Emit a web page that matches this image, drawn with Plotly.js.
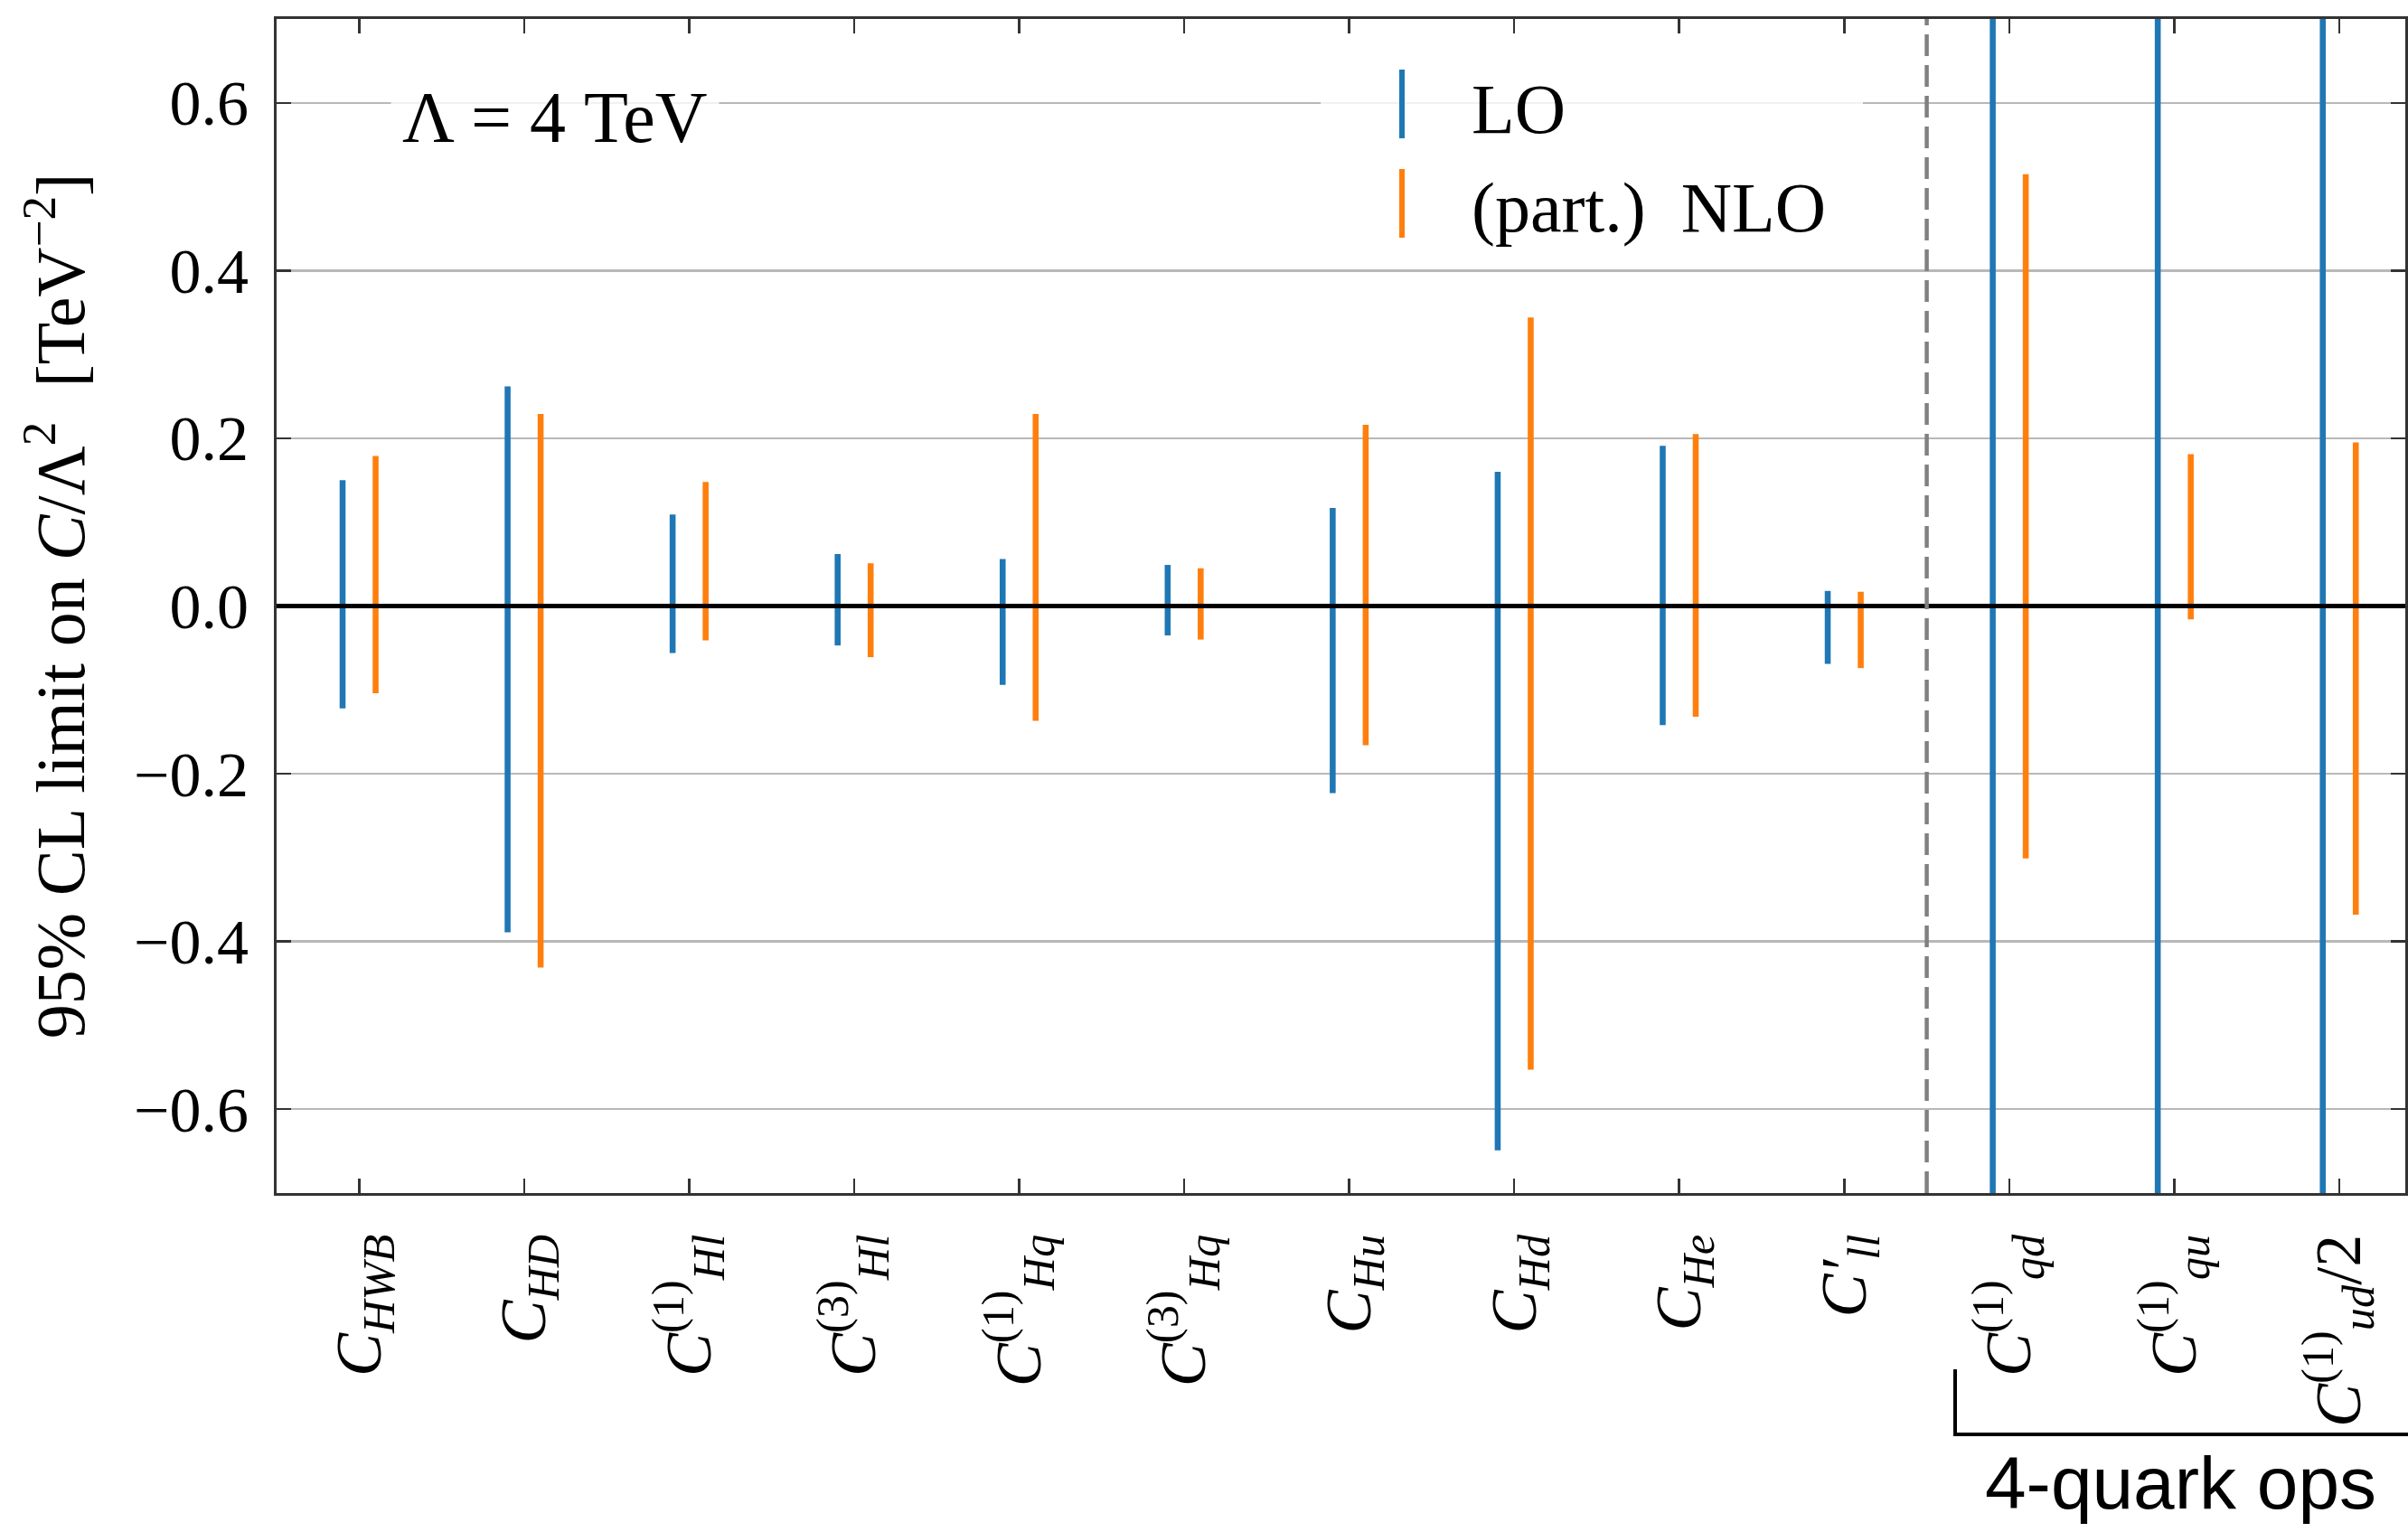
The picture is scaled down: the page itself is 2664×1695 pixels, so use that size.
<!DOCTYPE html>
<html>
<head>
<meta charset="utf-8">
<script src="https://cdn.plot.ly/plotly-3.0.1.min.js"></script>
<style>html,body{margin:0;padding:0;background:#fff;}</style>
</head>
<body>
<div id="chart" style="width:2664px;height:1695px;"></div>
<script>
// ---- data ----
const categories = [
  "<i>C</i><sub><i>HWB</i></sub>",
  "<i>C</i><sub><i>HD</i></sub>",
  "<i>C</i><sup>(1)</sup><sub><i>Hl</i></sub>",
  "<i>C</i><sup>(3)</sup><sub><i>Hl</i></sub>",
  "<i>C</i><sup>(1)</sup><sub><i>Hq</i></sub>",
  "<i>C</i><sup>(3)</sup><sub><i>Hq</i></sub>",
  "<i>C</i><sub><i>Hu</i></sub>",
  "<i>C</i><sub><i>Hd</i></sub>",
  "<i>C</i><sub><i>He</i></sub>",
  "<i>C′</i><sub><i>ll</i></sub>",
  "<i>C</i><sup>(1)</sup><sub><i>qd</i></sub>",
  "<i>C</i><sup>(1)</sup><sub><i>qu</i></sub>",
  "<i>C</i><sup>(1)</sup><sub><i>ud</i></sub>/2"
];
// LO 95% CL interval (4-quark LO intervals run off the plotted range)
const loLower = [-0.122, -0.389, -0.056, -0.047, -0.094, -0.035, -0.223, -0.649, -0.142, -0.069, -1.0, -1.0, -1.0];
const loUpper = [ 0.150,  0.262,  0.109,  0.062,  0.056,  0.049,  0.117,  0.160,  0.191,  0.018,  1.0,  1.0,  1.0];
// (part.) NLO 95% CL interval
const nloLower = [-0.104, -0.431, -0.041, -0.061, -0.137, -0.040, -0.166, -0.553, -0.132, -0.074, -0.301, -0.016, -0.368];
const nloUpper = [ 0.179,  0.229,  0.148,  0.051,  0.229,  0.045,  0.216,  0.344,  0.205,  0.017,  0.515,  0.181,  0.195];
const seriesNames = ["LO", "(part.)  NLO"];
const yTitle = "95% CL limit on <i>C</i>/Λ<sup>2</sup>  [TeV<sup>−2</sup>]";
const scaleText = "Λ = 4 TeV";
const groupText = "4-quark ops";

// ---- style ----
const BLUE = "#1f77b4", ORANGE = "#ff7f0e";
const SERIF = "Liberation Serif, DejaVu Serif, serif";
const SANS = "Liberation Sans, Arial, sans-serif";
const W = 2664, H = 1695;
const M = {l: 306, r: 3, t: 21, b: 375};
const PW = W - M.l - M.r, PH = H - M.t - M.b;
const fx = px => (px - M.l) / PW;
const fy = py => (H - M.b - py) / PH;
const barW = 0.036;

const traces = [
  {
    type: "bar", name: seriesNames[0], x: categories,
    base: loLower, y: loUpper.map((u, i) => u - loLower[i]),
    width: barW, offset: -0.1 - barW / 2,
    marker: {color: BLUE, line: {width: 0}}, showlegend: false, hoverinfo: "skip"
  },
  {
    type: "bar", name: seriesNames[1], x: categories,
    base: nloLower, y: nloUpper.map((u, i) => u - nloLower[i]),
    width: barW, offset: 0.1 - barW / 2,
    marker: {color: ORANGE, line: {width: 0}}, showlegend: false, hoverinfo: "skip"
  }
];

const axisCommon = {
  ticks: "inside", ticklen: 16, tickwidth: 2.5, tickcolor: "#333",
  showline: true, linecolor: "#333", linewidth: 3, mirror: "ticks",
  fixedrange: true
};

const layout = {
  width: W, height: H, margin: M,
  paper_bgcolor: "#fff", plot_bgcolor: "#fff",
  barmode: "overlay", showlegend: false,
  font: {family: SERIF, color: "#000"},
  xaxis: Object.assign({}, axisCommon, {
    type: "category", range: [-0.5, 12.4], showgrid: false, zeroline: false,
    tickangle: -90, tickfont: {family: SERIF, size: 72, color: "#000"},
    ticklabelstandoff: 14
  }),
  yaxis: Object.assign({}, axisCommon, {
    range: [-0.7, 0.7], tick0: 0, dtick: 0.2, tickformat: ".1f",
    showgrid: true, gridcolor: "#b8b8b8", gridwidth: 2.5, zeroline: false,
    tickfont: {family: SERIF, size: 70, color: "#000"},
    ticklabelstandoff: 14,
    title: {text: yTitle, font: {family: SERIF, size: 76, color: "#000"}, standoff: 30}
  }),
  shapes: [
    // legend background
    {type: "rect", xref: "paper", yref: "paper", x0: fx(1461), x1: fx(2061), y0: fy(290), y1: fy(45),
     fillcolor: "rgba(255,255,255,0.8)", line: {width: 0}, layer: "above"},
    // zero line
    {type: "line", xref: "paper", yref: "y", x0: 0, x1: 1, y0: 0, y1: 0,
     line: {color: "#000", width: 5}, layer: "above"},
    // separator
    {type: "line", xref: "x", yref: "paper", x0: 9.5, x1: 9.5, y0: 0, y1: 1,
     line: {color: "#808080", width: 4.5, dash: "24px,10px"}, layer: "above"},
    // legend handles
    {type: "line", xref: "paper", yref: "paper", x0: fx(1551), x1: fx(1551), y0: fy(77), y1: fy(153),
     line: {color: BLUE, width: 6}, layer: "above"},
    {type: "line", xref: "paper", yref: "paper", x0: fx(1551), x1: fx(1551), y0: fy(187), y1: fy(263),
     line: {color: ORANGE, width: 6}, layer: "above"},
    // 4-quark bracket
    {type: "line", xref: "paper", yref: "paper", x0: fx(2163), x1: fx(2163), y0: fy(1515), y1: fy(1587),
     line: {color: "#000", width: 4}},
    {type: "line", xref: "paper", yref: "paper", x0: fx(2161), x1: fx(2664), y0: fy(1587), y1: fy(1587),
     line: {color: "#000", width: 4}}
  ],
  annotations: [
    {xref: "paper", yref: "paper", x: fx(614), y: fy(130), text: scaleText, showarrow: false,
     xanchor: "center", yanchor: "middle", font: {family: SERIF, size: 80, color: "#000"},
     bgcolor: "rgba(255,255,255,0.8)", borderpad: 12},
    {xref: "paper", yref: "paper", x: fx(1626), y: fy(120), text: seriesNames[0], showarrow: false,
     xanchor: "left", yanchor: "middle", font: {family: SERIF, size: 78, color: "#000"}},
    {xref: "paper", yref: "paper", x: fx(1626), y: fy(230), text: seriesNames[1], showarrow: false,
     xanchor: "left", yanchor: "middle", font: {family: SERIF, size: 78, color: "#000"}},
    {xref: "paper", yref: "paper", x: fx(2412), y: fy(1640), text: groupText, showarrow: false,
     xanchor: "center", yanchor: "middle", font: {family: SANS, size: 82, color: "#000"}, borderpad: 0}
  ]
};

Plotly.newPlot("chart", traces, layout, {staticPlot: true, displayModeBar: false});
</script>
</body>
</html>
